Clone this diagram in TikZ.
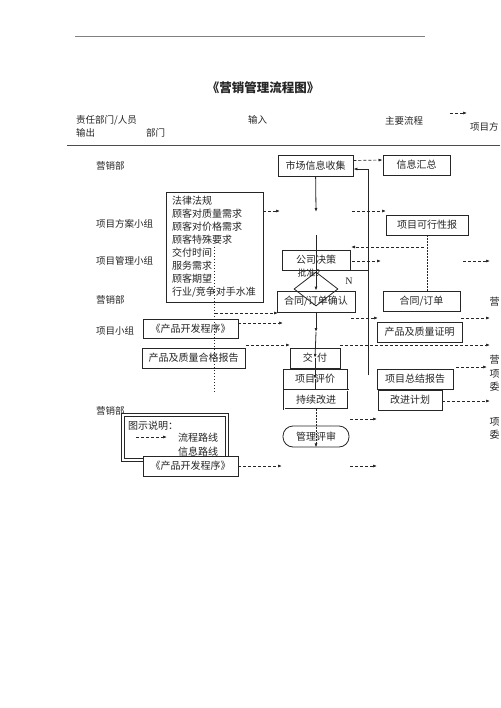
\documentclass[tikz,border=0pt]{standalone}
\usepackage{fontspec}
\setmainfont{Noto Sans CJK SC}
\newfontfamily\latinfont{Liberation Serif}
\usetikzlibrary{arrows.meta,shapes.geometric}

\tikzset{
  box/.style={draw=black!85, line width=0.8pt, minimum height=20pt, inner sep=0pt},
  lbl/.style={anchor=west, inner sep=0pt, font=\fontsize{9.5}{11}\selectfont},
  info/.style={dash pattern=on 3pt off 2pt, line width=0.7pt, -{Latex[length=4pt,width=3pt]}},
  flow/.style={line width=0.8pt, -{Latex[length=4pt,width=3pt]}},
  dotline/.style={dash pattern=on 1.2pt off 1.8pt, line width=0.7pt},
}

\begin{document}
\begin{tikzpicture}[x=1pt,y=-1pt,font=\fontsize{10}{12}\selectfont,color=black!85]
\useasboundingbox[fill=white] (0,0) rectangle (500,708);
\clip (0,0) rectangle (500,708);

% header
\draw[black!50, line width=1pt] (75,37) -- (425,37);
\node (title) at (263,88) {\fontsize{12.5}{14}\selectfont\bfseries 《营销管理流程图》};
\node[lbl] (hzr) at (76,120) {责任部门/人员};
\node[lbl] (hsc) at (76,133) {输出};
\node[lbl] (hbm) at (146,133) {部门};
\node[lbl] (hsr) at (248,120) {输入};
\node[lbl] (hlc) at (385,121) {主要流程};
\node[lbl] (hxm) at (470,127) {项目方};
\coordinate (h1) at (450,113);
\coordinate (h2) at (467,113);
\draw[info] (h1) -- (h2);
\draw[black!70, line width=1pt] (67,146) -- (500,146);

% departments
\node[lbl] (d1) at (96,166) {营销部};
\node[lbl] (d2) at (96,224) {项目方案小组};
\node[lbl] (d3) at (96,261) {项目管理小组};
\node[lbl] (d4) at (96,300) {营销部};
\node[lbl] (d5) at (96,331) {项目小组};
\node[lbl] (d6) at (96,411) {营销部};

% inputs
\node[box, text width=85pt, inner xsep=6pt, minimum height=110pt, align=left,
  font=\fontsize{10}{13}\selectfont] (fg) at (214.5,247)
  {法律法规\\顾客对质量需求\\顾客对价格需求\\顾客特殊要求\\交付时间\\服务需求\\顾客期望\\行业/竞争对手水准};
\node[box, minimum width=95pt, minimum height=19pt] (cpcx) at (190.5,328.5) {《产品开发程序》};
\node[box, minimum width=103pt] (hgbg) at (193.5,358) {产品及质量合格报告};

% main flow
\node[box, minimum width=75pt, minimum height=21pt] (scxx) at (315.5,165.5) {市场信息收集};
\node[box, minimum width=68pt] (gsjc) at (316,260) {公司决策};
\node[draw=black!85, line width=0.8pt, diamond, aspect=1.3, minimum width=44pt, minimum height=34pt, inner sep=0pt] (pz) at (316,289) {};
\node[font=\fontsize{9}{10}\selectfont] (pzt) at (311,273) {批准？};
\node[font=\latinfont\fontsize{10}{12}\selectfont] (nn) at (349,281) {N};
\node[box, minimum width=78pt, minimum height=21pt] (htqr) at (316,301.5) {合同/订单确认};
\node[box, minimum width=50pt] (jf) at (315,358) {交\ \ 付};
\node[box, minimum width=64pt] (xmpj) at (315,379) {项目评价};
\node[box, double, double distance=1pt, minimum width=64pt, minimum height=19pt] (cxgj) at (316,399.5) {持续改进};
\node[box, minimum width=66pt, minimum height=21pt, rounded corners=10pt] (glps) at (316,436.5) {管理评审};

% outputs
\node[box, minimum width=67pt] (xxhz) at (416.5,165) {信息汇总};
\node[box, minimum width=82pt] (kxx) at (427,225) {项目可行性报};
\node[box, minimum width=77pt] (htdd) at (421.5,301) {合同/订单};
\node[box, minimum width=85pt] (cpzm) at (419.5,332) {产品及质量证明};
\node[box, minimum width=76pt] (zjbg) at (415,379) {项目总结报告};
\node[box, minimum width=64pt] (gjjh) at (410,400) {改进计划};

% at the right edge
\node (r1) at (494.5,302) {营};
\node (r2) at (494.5,360) {营};
\node (r3) at (494.5,374) {项};
\node (r4) at (494.5,387) {委};
\node (r5) at (494.5,422) {项};
\node (r6) at (494.5,435) {委};

% main line
\coordinate (m1) at (316,212);
\coordinate (m2) at (316,235);
\coordinate (m3) at (316,332);
\draw[flow] (scxx) -- (m1);
\draw[flow] (m2) -- (htqr.north);
\draw[flow] (htqr.south) -- (m3);
\draw[flow] (m3) -- (jf.center);
\draw[flow] (jf.center) -- (xmpj.center);
\draw[line width=0.8pt] (xmpj.center) -- (xmpj.south);
\draw[dotline, -{Latex[length=4pt,width=3pt]}] (cxgj.south) -- (glps.south);
\draw[dotline] (fg.center |- 0,247) -- (fg.center |- 0,393);
\draw[dotline] (kxx.south) -- (kxx.south |- htdd.north);

% loop back
\coordinate (lp1) at (368,375);
\coordinate (lp2) at (368,169);
\draw[flow] (lp1) -- (lp2) -- (scxx.east |- lp2);
\draw[line width=0.8pt] (gsjc.south east) -- (gsjc.south east -| lp1);

% information lines
\coordinate (a3) at (280,211);
\coordinate (a4s) at (352,211);  \coordinate (a4e) at (386,211);
\coordinate (a5s) at (424,247);  \coordinate (a5e) at (351,247);
\coordinate (a6s) at (352,261);  \coordinate (a6e) at (381,261);
\coordinate (a7s) at (463,261);  \coordinate (a7e) at (490,261);
\coordinate (a8s) at (215,313);  \coordinate (a8e) at (278,313);
\coordinate (a9) at (283,323);
\coordinate (a10s) at (351,318); \coordinate (a10e) at (378,318);
\coordinate (a11s) at (461,318); \coordinate (a11e) at (490,318);
\coordinate (a12s) at (246,345); \coordinate (a12e) at (290,345);
\coordinate (a13s) at (340,345); \coordinate (a13e) at (490,345);
\coordinate (a14s) at (456,367); \coordinate (a14e) at (487,367);
\coordinate (a15) at (490,401);
\coordinate (a16s) at (350,419); \coordinate (a16e) at (377,419);
\coordinate (a17) at (282,466);
\coordinate (a18s) at (350,466); \coordinate (a18e) at (377,466);
\draw[info] ([yshift=5pt]scxx.east) -- ([yshift=5pt]xxhz.west);
\draw[info] (fg.east |- a3) -- (a3);
\draw[info] (a4s) -- (a4e);
\draw[info] (a5s) -- (a5e);
\draw[info] (a6s) -- (a6e);
\draw[info] (a7s) -- (a7e);
\draw[info] (a8s) -- (a8e);
\draw[info] (cpcx.east |- a9) -- (a9);
\draw[info] (a10s) -- (a10e);
\draw[info] (a11s) -- (a11e);
\draw[info] (a12s) -- (a12e);
\draw[info] (a13s) -- (a13e);
\draw[info] (a14s) -- (a14e);
\draw[info] (gjjh.east |- a15) -- (a15);
\draw[info] (a16s) -- (a16e);
\draw[info] (a18s) -- (a18e);

% legend
\node[draw=black!85, double, double distance=1.5pt, line width=1pt, minimum width=104pt, minimum height=45pt] (lgd) at (175,437.5) {};
\node[lbl, font=\fontsize{10}{12}\selectfont] (lgt) at (128,426) {图示说明：};
\coordinate (lg1) at (136,437);
\coordinate (lg2) at (167,437);
\draw[info] (lg1) -- (lg2);
\node[lbl, font=\fontsize{10}{12}\selectfont] (lg3) at (178,438) {流程路线};
\node[lbl, font=\fontsize{10}{12}\selectfont] (lg4) at (178,452) {信息路线};
\node[box, fill=white, minimum width=95pt] (cpcx2) at (190.5,466) {《产品开发程序》};
\draw[info] (cpcx2.east |- a17) -- (a17);
\end{tikzpicture}
\end{document}
